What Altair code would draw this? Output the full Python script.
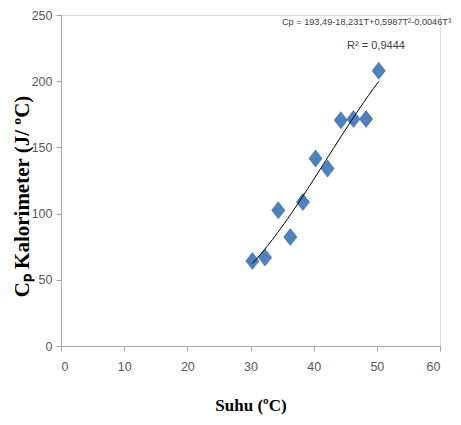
import altair as alt
import pandas as pd

suhu = [30.3, 32.3, 34.4, 36.3, 38.3, 40.3, 42.2, 44.3, 46.3, 48.3, 50.3]
cp = [64.2, 66.8, 102.5, 82.4, 108.8, 141.6, 134.0, 170.5, 171.5, 171.5, 207.8]
eq_line1 = "Cp = 193,49-18,231T+0,5987T²-0,0046T³"
eq_line2 = "R² = 0,9444"

df = pd.DataFrame({"Suhu": suhu, "Cp": cp})

LABEL_FONT = "Liberation Sans"

xs = alt.Scale(domain=[0, 60], nice=False)
ys = alt.Scale(domain=[0, 250], nice=False)

x_axis = alt.Axis(values=[0, 10, 20, 30, 40, 50, 60], grid=False, title="Suhu (ºC)",
                  titleFont="Liberation Serif", titleFontSize=17, titleFontWeight="bold",
                  titleColor="black", titlePadding=25,
                  labelFont=LABEL_FONT, labelFontSize=12.5, labelColor="#595959", labelPadding=9,
                  domainColor="#a6a6a6", tickColor="#a6a6a6", tickSize=5)
y_axis = alt.Axis(values=[0, 50, 100, 150, 200, 250], grid=False, title="Cₚ Kalorimeter (J/ ºC)",
                  titleFont="Liberation Serif", titleFontSize=21, titleFontWeight="bold",
                  titleColor="black", titleX=-39, titleY=181, titleBaseline="middle",
                  labelFont=LABEL_FONT, labelFontSize=12.5, labelColor="#595959", labelPadding=4,
                  domainColor="#a6a6a6", tickColor="#a6a6a6", tickSize=5)

diamond = "M0,-1L0.78,0L0,1L-0.78,0Z"

points = alt.Chart(df).mark_point(shape=diamond, filled=True, size=324, color="#4F81BD", opacity=1).encode(
    x=alt.X("Suhu:Q", scale=xs, axis=x_axis),
    y=alt.Y("Cp:Q", scale=ys, axis=y_axis),
)

trend = alt.Chart(df).transform_regression("Suhu", "Cp", method="poly", order=3).mark_line(
    color="black", strokeWidth=1).encode(
    x=alt.X("Suhu:Q", scale=xs),
    y=alt.Y("Cp:Q", scale=ys),
)

eq1 = alt.Chart(pd.DataFrame({"txt": [eq_line1]})).mark_text(
    font=LABEL_FONT, fontSize=9.2, color="#404040", align="right", baseline="middle").encode(
    text="txt:N", x=alt.value(390), y=alt.value(7))
eq2 = alt.Chart(pd.DataFrame({"txt": [eq_line2]})).mark_text(
    font=LABEL_FONT, fontSize=11, color="#404040", align="center", baseline="middle").encode(
    text="txt:N", x=alt.value(315), y=alt.value(31))

chart = alt.layer(points, trend, eq1, eq2).properties(
    width=379, height=331,
    autosize=alt.AutoSizeParams(type="none"),
    padding={"left": 53, "top": 7, "right": 13, "bottom": 70},
).configure_view(stroke=None).configure(background="white")

chart.save("out.html", embed_options={"renderer": "svg", "actions": False})
